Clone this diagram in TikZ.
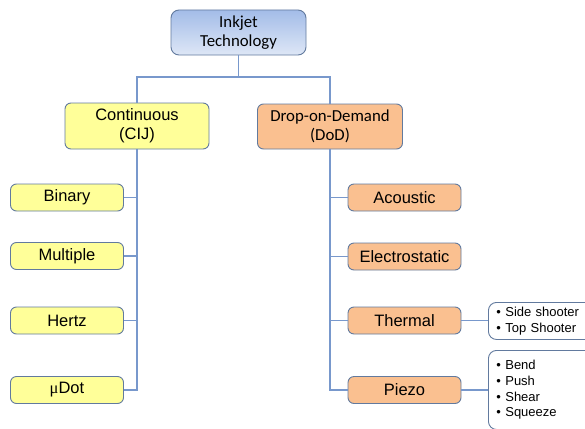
\documentclass[tikz,border=0pt]{standalone}
\usepackage{fontspec}
\setmainfont{Liberation Sans}
\newfontfamily\calibri{Carlito}
\newfontfamily\symbolserif{Liberation Serif}
\usepackage{tikz}
\usetikzlibrary{positioning}
\definecolor{boxline}{RGB}{98,122,158}
\definecolor{linkline}{RGB}{120,152,204}
\definecolor{cijfill}{RGB}{255,255,153}
\definecolor{dodfill}{RGB}{250,192,144}
\definecolor{roottop}{RGB}{163,188,232}
\definecolor{rootbot}{RGB}{222,231,246}
\tikzset{
    box/.style={draw=boxline, line width=0.9pt, rounded corners=6pt, inner sep=0pt,
        align=center, font=\fontsize{16.5}{19}\selectfont},
    rootbox/.style={box, rounded corners=8pt, top color=roottop, bottom color=rootbot,
        font=\calibri\fontsize{16.8}{19.5}\selectfont},
    cijbox/.style={box, fill=cijfill},
    dodbox/.style={box, fill=dodfill},
    leaf/.style={minimum width=113pt, minimum height=27pt},
    listbox/.style={draw=boxline, line width=0.9pt, rounded corners=8pt, fill=white,
        anchor=north west, align=left, text width=100pt, inner xsep=8pt, inner ysep=0pt,
        font=\fontsize{13}{15.7}\selectfont},
    link/.style={draw=linkline, line width=1.2pt},
}
\begin{document}
\begin{tikzpicture}[x=1pt, y=-1pt]
	\useasboundingbox (0,0) rectangle (585,428);
	\clip (0,0) rectangle (585,428);
	% top level
	\node[rootbox, minimum width=135pt, minimum height=45pt] (root) at (238.5,32.5) {Inkjet\\Technology};
	\node[cijbox, minimum width=144pt, minimum height=46pt] (cij) at (137,126) {Continuous\\(CIJ)};
	\node[dodbox, font=\calibri\fontsize{16.8}{19.5}\selectfont, minimum width=145pt, minimum height=45pt] (dod) at (330,126.5) {Drop-on-Demand\\(DoD)};
	\coordinate (fork) at (238.5,77);
	%
	\node[cijbox, leaf] (binary) at (67,197.5) {Binary};
	\node[cijbox, leaf] (multiple) at (67,256) {Multiple};
	\node[cijbox, leaf] (hertz) at (67,320.5) {Hertz};
	\node[cijbox, leaf] (mudot) at (67,390) {{\symbolserif μ}Dot};
	%
	\node[dodbox, leaf] (acoustic) at (404.5,197.5) {Acoustic};
	\node[dodbox, leaf] (electro) at (404.5,256.5) {Electrostatic};
	\node[dodbox, leaf] (thermal) at (404.5,320.5) {Thermal};
	\node[dodbox, leaf] (piezo) at (404.5,390) {Piezo};
	%
	\node[listbox, minimum height=37pt] (thermlist) at (488,302) {\textbullet\ Side shooter\\\textbullet\ Top Shooter};
	\node[listbox, minimum height=79pt] (piezolist) at (488,350) {\textbullet\ Bend\\\textbullet\ Push\\\textbullet\ Shear\\\textbullet\ Squeeze};
	% connectors
	\draw[link] (root) -- (fork);
	\draw[link] (cij.north) |- (fork) -| (dod.north);
	\draw[link] (cij.south) |- (mudot.east);
	\draw[link] (binary.east) -- (binary.east -| cij.south);
	\draw[link] (multiple.east) -- (multiple.east -| cij.south);
	\draw[link] (hertz.east) -- (hertz.east -| cij.south);
	\draw[link] (dod.south) |- (piezo.west);
	\draw[link] (acoustic.west) -- (acoustic.west -| dod.south);
	\draw[link] (electro.west) -- (electro.west -| dod.south);
	\draw[link] (thermal.west) -- (thermal.west -| dod.south);
	\draw[link] (thermal.east) -- (thermal.east -| thermlist.west);
	\draw[link] (piezo.east) -- (piezo.east -| piezolist.west);
\end{tikzpicture}
\end{document}
